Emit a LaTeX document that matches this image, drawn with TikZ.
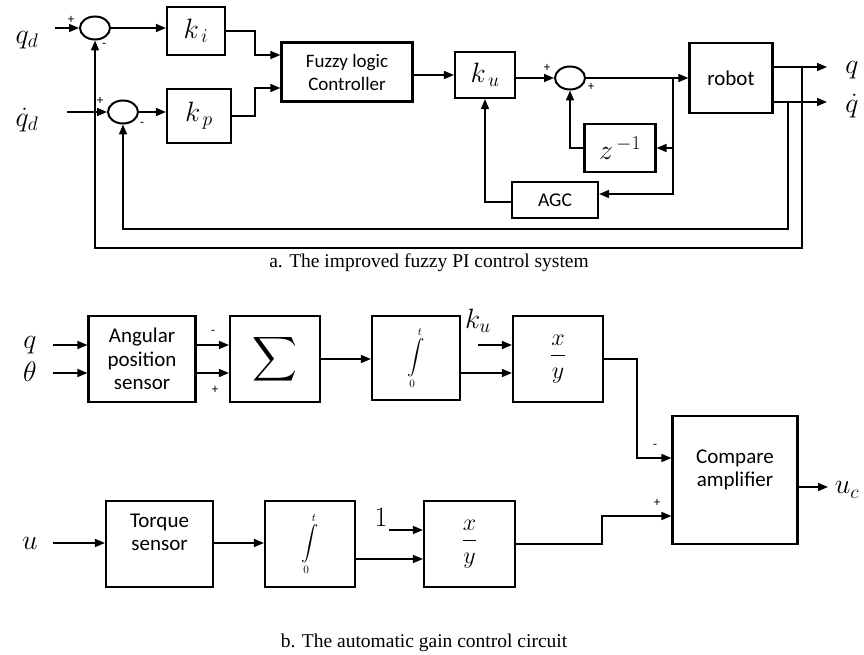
\RequirePackage{fix-cm}
\documentclass[tikz,border=0pt]{standalone}
\usepackage{amsmath}
\usepackage{graphicx}
\usepackage{fontspec}
\setmainfont{Liberation Serif}
\newfontfamily\boxfont{Carlito}
\usetikzlibrary{arrows.meta,shapes.geometric,calc}

\begin{document}
\begin{tikzpicture}[x=1pt, y=-1pt,
  box/.style 2 args = {draw, line width=2.2pt, minimum width=#1,
                minimum height=#2, align=center, inner sep=0pt,
                font=\boxfont\fontsize{21}{23.5}\selectfont},
  gain/.style = {font=\fontsize{28}{30}\selectfont},
  sum/.style = {draw, ellipse, line width=2pt, minimum width=30pt,
                minimum height=23pt, inner sep=0pt},
  arr/.style = {-{Triangle[length=10pt,width=8pt]}, line width=1.6pt},
  sgn/.style = {font=\boxfont\fontsize{13}{13}\selectfont},
  lbl/.style = {font=\fontsize{28}{30}\selectfont},
  figcap/.style = {font=\fontsize{19.5}{22}\selectfont}
]
  \useasboundingbox (0,0) rectangle (864,655);

  % a. summing points
  \node[sum] (s1) at (95,28) {};
  \node[sum] (s2) at (123,112) {};
  \node[sum] (s3) at (570,78) {};

  % a. blocks
  \node[box={58pt}{48pt}, gain] (ki) at (196,31) {$k_{\,i}$};
  \node[box={64pt}{54pt}, gain] (kp) at (199,116) {$k_{\,p}$};
  \node[box={131pt}{59pt}, font=\boxfont\fontsize{19}{23}\selectfont]
      (flc) at (347,72) {Fuzzy logic\\Controller};
  \node[box={60pt}{46pt}, gain] (ku) at (485,75) {$k_{\,u}$};
  \node[box={83pt}{70pt}] (robot) at (731,78) {robot};
  \node[box={71pt}{48pt}, gain] (zinv) at (620,148) {$z^{\,-1}$};
  \node[box={86pt}{36pt}, font=\boxfont\fontsize{19.5}{22}\selectfont]
      (agc) at (555,200) {AGC};

  % a. inputs
  \node[lbl] (qd)  at (27,40)  {$q_d$};
  \node[lbl] (dqd) at (27,120) {$\dot q_d$};
  \coordinate (qdin)  at (55,28);
  \coordinate (dqdin) at (67,112);
  \draw[arr] (qdin) -- (s1.west);
  \draw[arr] (dqdin) -- (s2.west);

  % a. forward path
  \draw[arr] (s1.east) -- (s1.east -| ki.west);
  \draw[arr] (s2.east) -- (s2.east -| kp.west);
  \draw[arr] (ki.east) -| (255,55) -- (flc.west |- 0,55);
  \draw[arr] (kp.east) -| (255,88) -- (flc.west |- 0,88);
  \draw[arr] (flc.east |- ku.west) -- (ku.west);
  \draw[arr] (ku.east |- s3.west) -- (s3.west);
  \draw[arr] (s3.east) -- (robot.west |- s3.east);

  % a. z^-1 and AGC loops
  \coordinate (br) at (673,78);
  \draw[arr] (br) |- (zinv.east);
  \draw[arr] (br) |- ($(agc.east)+(0,-6)$);
  \draw[arr] (zinv.west) -| (s3.south);
  \draw[arr] ($(agc.west)+(0,2)$) -| (ku.south);

  % a. outputs
  \coordinate (qout)  at (827,67);
  \coordinate (dqout) at (827,102);
  \draw[arr] (robot.east |- qout) -- (qout);
  \draw[arr] (robot.east |- dqout) -- (dqout);
  \node[lbl] (qlab)  at (852,70)  {$q$};
  \node[lbl] (dqlab) at (852,106) {$\dot q$};

  % a. feedback
  \coordinate (fb1) at (802,67);
  \coordinate (fb2) at (788,102);
  \draw[arr] (fb1) |- (s1.south |- 0,248) -- (s1.south);
  \draw[arr] (fb2) |- (s2.south |- 0,229) -- (s2.south);

  % a. signs
  \node[sgn] (p1) at (71,20)  {+};
  \node[sgn] (m1) at (104,45) {-};
  \node[sgn] (p2) at (100,101) {+};
  \node[sgn] (m2) at (142,124) {-};
  \node[sgn] (p3) at (547,68) {+};
  \node[sgn] (p4) at (591,87) {+};

  \node[figcap] (capa) at (429,263) {a. The improved fuzzy PI control system};

  % b. blocks
  \node[box={107pt}{86pt}] (aps) at (142,359) {Angular\\position\\sensor};
  \node[box={90pt}{86pt}, font=\fontsize{30}{32}\selectfont]
      (sigma) at (275,359) {\scalebox{1.25}{$\displaystyle\sum$}};
  \node[box={88pt}{84pt}, font=\fontsize{16}{17}\selectfont]
      (int1) at (416,358) {$\displaystyle\int\limits_0^t$};
  \node[box={90pt}{86pt}, font=\fontsize{24}{26}\selectfont]
      (xy1) at (558,359) {$\dfrac{x}{y}$};
  \node[box={125pt}{128pt}] (cmp) at (735,480) {Compare\\amplifier\\~};
  \node[box={107pt}{86pt}] (tq) at (159.5,544) {Torque\\sensor\\~};
  \node[box={90pt}{86pt}, font=\fontsize{16}{17}\selectfont]
      (int2) at (310,544) {$\displaystyle\int\limits_0^t$};
  \node[box={91pt}{86pt}, font=\fontsize{24}{26}\selectfont]
      (xy2) at (469.5,544) {$\dfrac{x}{y}$};

  % b. upper row
  \node[lbl] (qlab2) at (30,345) {$q$};
  \node[lbl] (thlab) at (30,372) {$\theta$};
  \coordinate (qin)  at (53,345);
  \coordinate (thin) at (53,373);
  \draw[arr] (qin) -- (aps.west |- qin);
  \draw[arr] (thin) -- (aps.west |- thin);
  \draw[arr] (aps.east |- qin) -- (sigma.west |- qin);
  \draw[arr] (aps.east |- thin) -- (sigma.west |- thin);
  \node[sgn] (m3) at (213,332) {-};
  \node[sgn] (p5) at (215,390) {+};
  \draw[arr] (sigma.east) -- (int1.west |- sigma.east);
  \node[lbl] (kulab) at (478,321) {$k_u$};
  \coordinate (kuin) at (478,345);
  \draw[arr] (kuin) -- (xy1.west |- kuin);
  \draw[arr] (int1.east |- 0,373) -- (xy1.west |- 0,373);
  \draw[arr] (xy1.east) -| (637,458) -- (cmp.west |- 0,458);

  % b. compare amplifier
  \node[sgn] (m4) at (655,446) {-};
  \node[sgn] (p6) at (657,503) {+};
  \coordinate (ucout) at (828,487);
  \draw[arr] (cmp.east |- ucout) -- (ucout);
  \node[lbl] (uclab) at (847,490) {$u_c$};

  % b. lower row
  \node[lbl] (ulab) at (30,543) {$u$};
  \coordinate (uin) at (53,543);
  \draw[arr] (uin) -- (tq.west |- uin);
  \draw[arr] (tq.east |- uin) -- (int2.west |- uin);
  \node[lbl] (onelab) at (381,517) {$1$};
  \coordinate (onein) at (389,530);
  \draw[arr] (onein) -- (xy2.west |- onein);
  \draw[arr] (int2.east |- 0,559) -- (xy2.west |- 0,559);
  \draw[arr] (xy2.east) -| (602,516) -- (cmp.west |- 0,516);

  \node[figcap] (capb) at (424,643) {b. The automatic gain control circuit};

\end{tikzpicture}
\end{document}
